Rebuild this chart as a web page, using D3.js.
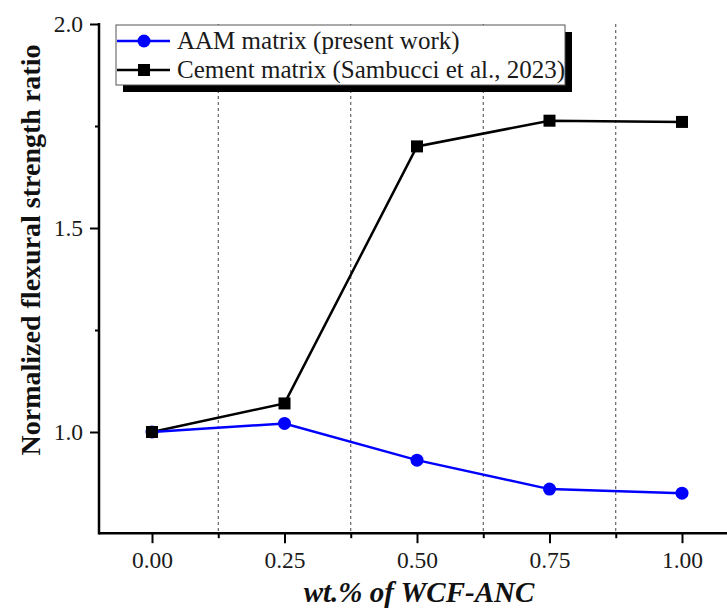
<!DOCTYPE html>
<html>
<head>
<meta charset="utf-8">
<script src="https://cdn.jsdelivr.net/npm/d3@7"></script>
<style>
  html, body { margin: 0; padding: 0; background: #fff; }
  svg { display: block; }
</style>
</head>
<body>
<svg id="chart" width="727" height="612"></svg>
<script>
// ---- data ----
const xValues = [0.00, 0.25, 0.50, 0.75, 1.00];
const aamValues = [1.000, 1.021, 0.931, 0.860, 0.850];
const cementValues = [1.000, 1.070, 1.700, 1.763, 1.760];
const seriesNames = ["AAM matrix (present work)", "Cement matrix (Sambucci et al., 2023)"];
const xTickValues = [0.00, 0.25, 0.50, 0.75, 1.00];
const xMinorTicks = [0.125, 0.375, 0.625, 0.875];
const yTickValues = [1.0, 1.5, 2.0];
const yMinorTicks = [1.25, 1.75];
const xTitle = "wt.% of WCF-ANC";
const yTitle = "Normalized flexural strength ratio";

(function () {
const FONT = "Liberation Serif";
const svg = d3.select("#chart");
const x = d3.scaleLinear().domain([0, 1]).range([152, 682]);
const y = d3.scaleLinear().domain([1.0, 2.0]).range([432, 24]);
const pLeft = x(-0.1), pBottom = y(0.752), pTop = y(2.0), pRight = 727;

// gridlines (dashed) at minor x positions
svg.append("g").selectAll("line").data(xMinorTicks).join("line")
  .attr("x1", d => x(d)).attr("x2", d => x(d))
  .attr("y1", pTop).attr("y2", pBottom)
  .attr("stroke", "#444").attr("stroke-width", 1)
  .attr("stroke-dasharray", "3,3");

// x axis
const xAxis = svg.append("g").attr("transform", `translate(0,${pBottom})`);
xAxis.call(d3.axisBottom(x).tickValues(xTickValues).tickFormat(d3.format(".2f")).tickSize(10).tickPadding(8));
xAxis.append("g").call(d3.axisBottom(x).tickValues(xMinorTicks).tickFormat("").tickSize(5));
xAxis.selectAll(".domain").remove();
xAxis.selectAll("line").attr("stroke", "#000").attr("stroke-width", 2);
xAxis.selectAll("text").attr("font-size", 23.5).attr("fill", "#1a1a1a").attr("font-family", FONT);
xAxis.append("line").attr("x1", pLeft).attr("x2", pRight).attr("y1", 0).attr("y2", 0)
  .attr("stroke", "#000").attr("stroke-width", 2.5);

// y axis
const yAxis = svg.append("g").attr("transform", `translate(${pLeft},0)`);
yAxis.call(d3.axisLeft(y).tickValues(yTickValues).tickFormat(d3.format(".1f")).tickSize(9).tickPadding(7));
yAxis.append("g").call(d3.axisLeft(y).tickValues(yMinorTicks).tickFormat("").tickSize(4));
yAxis.selectAll(".domain").remove();
yAxis.selectAll("line").attr("stroke", "#000").attr("stroke-width", 2);
yAxis.selectAll("text").attr("font-size", 23.5).attr("fill", "#1a1a1a").attr("font-family", FONT);
yAxis.append("line").attr("x1", 0).attr("x2", 0).attr("y1", pTop - 1).attr("y2", pBottom + 1.25)
  .attr("stroke", "#000").attr("stroke-width", 2.5);

// axis titles
svg.append("text")
  .attr("x", 419).attr("y", 602)
  .attr("text-anchor", "middle").attr("font-family", FONT)
  .attr("font-size", 29).attr("font-weight", "bold").attr("font-style", "italic")
  .attr("fill", "#111")
  .text(xTitle);
svg.append("text")
  .attr("transform", "translate(40,250) rotate(-90)")
  .attr("text-anchor", "middle").attr("font-family", FONT)
  .attr("font-size", 28).attr("font-weight", "bold")
  .attr("fill", "#111")
  .text(yTitle);

// lines
const line = d3.line().x(d => x(d[0])).y(d => y(d[1]));
const aamData = xValues.map((v, i) => [v, aamValues[i]]);
const cemData = xValues.map((v, i) => [v, cementValues[i]]);

svg.append("path").datum(cemData).attr("d", line)
  .attr("fill", "none").attr("stroke", "#000").attr("stroke-width", 2.5);
svg.append("path").datum(aamData).attr("d", line)
  .attr("fill", "none").attr("stroke", "#0000ff").attr("stroke-width", 2.5);

svg.append("g").selectAll("circle").data(aamData).join("circle")
  .attr("cx", d => x(d[0])).attr("cy", d => y(d[1])).attr("r", 6.5)
  .attr("fill", "#0000ff");
svg.append("g").selectAll("rect").data(cemData).join("rect")
  .attr("x", d => x(d[0]) - 6).attr("y", d => y(d[1]) - 6)
  .attr("width", 12).attr("height", 12).attr("fill", "#000");

// legend
const lg = svg.append("g");
const lx = 116, ly = 25, lw = 449, lh = 60;
lg.append("rect").attr("x", lx + 7).attr("y", ly + 7).attr("width", lw).attr("height", lh).attr("fill", "#000");
lg.append("rect").attr("x", lx).attr("y", ly).attr("width", lw).attr("height", lh)
  .attr("fill", "#fff").attr("stroke", "#555").attr("stroke-width", 1);
const rows = [
  { name: seriesNames[0], color: "#0000ff", shape: "circle", cy: 41 },
  { name: seriesNames[1], color: "#000", shape: "square", cy: 70 }
];
rows.forEach(r => {
  lg.append("line").attr("x1", lx + 1).attr("x2", 170).attr("y1", r.cy).attr("y2", r.cy)
    .attr("stroke", r.color).attr("stroke-width", 2.5);
  if (r.shape === "circle") {
    lg.append("circle").attr("cx", 144).attr("cy", r.cy).attr("r", 6.5).attr("fill", r.color);
  } else {
    lg.append("rect").attr("x", 138).attr("y", r.cy - 6).attr("width", 12).attr("height", 12).attr("fill", r.color);
  }
  lg.append("text").attr("x", 177).attr("y", r.cy).attr("dy", "0.33em")
    .attr("font-family", FONT).attr("font-size", 25).attr("fill", "#1a1a1a").text(r.name);
});
})();
</script>
</body>
</html>
